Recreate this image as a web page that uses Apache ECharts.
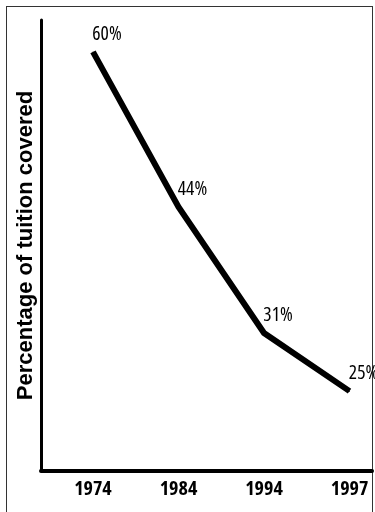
<!DOCTYPE html>
<html>
<head>
<meta charset="utf-8">
<script src="https://cdn.jsdelivr.net/npm/echarts@6/dist/echarts.min.js"></script>
<style>
  html, body { margin: 0; padding: 0; background: #fff; }
  #frame { position: absolute; left: 6px; top: 6px; width: 367px; height: 520px;
           border: 1px solid #333; box-sizing: border-box; }
  #chart { position: absolute; left: 0; top: 0; width: 375px; height: 512px; }
</style>
</head>
<body>
<div id="frame"></div>
<div id="chart"></div>
<script>
// Share of tuition covered, by year
const years = ['1974', '1984', '1994', '1997'];
const coveredPct = [60, 44, 31, 25];
const yAxisTitle = 'Percentage of tuition covered';

// Find the narrowest locally available face for the compressed headline-style figures.
function narrowFace(sample, weight) {
  const ctx = document.createElement('canvas').getContext('2d');
  const candidates = [
    [weight + ' ultra-condensed', '"Noto Sans"'],
    [weight + ' extra-condensed', '"Noto Sans"'],
    [weight + ' condensed', '"Noto Sans"'],
    [weight, '"Liberation Sans Narrow"'],
    [weight + ' condensed', '"Liberation Sans"'],
    [weight + ' condensed', '"Open Sans"'],
    [weight + ' condensed', '"DejaVu Sans"'],
    [weight, '"DejaVu Sans Condensed"'],
    [weight, '"Roboto Condensed"']
  ];
  let best = null;
  for (const [w, fam] of candidates) {
    ctx.font = '10px serif';
    const spec = w + ' 100px ' + fam;
    ctx.font = spec;
    if (ctx.font === '10px serif') continue;
    const width = ctx.measureText(sample).width;
    if (!best || width < best.width - 0.5) best = { weight: w, family: fam, width: width };
  }
  return best || { weight: weight, family: 'sans-serif', width: 60 * sample.length };
}

function fitSize(face, targetWidth, lo, hi) {
  const s = targetWidth * 100 / face.width;
  return Math.max(lo, Math.min(hi, Math.round(s * 2) / 2));
}

const yearFace = narrowFace('1974', 'bold');
const yearSize = fitSize(yearFace, 38, 14, 22);
const pctFace = narrowFace('60%', 'normal');
const pctSize = fitSize(pctFace, 29, 14, 20);

const chart = echarts.init(document.getElementById('chart'), null, { renderer: 'canvas' });

chart.setOption({
  animation: false,
  backgroundColor: 'transparent',
  grid: { left: 41, right: 3, top: 20, bottom: 41 },
  xAxis: {
    type: 'value',
    min: -0.608,
    max: 3.263,
    splitLine: { show: false },
    axisTick: { show: false },
    axisLine: { show: true, onZero: false, lineStyle: { color: '#000', width: 4 } },
    axisLabel: {
      customValues: years.map((_, i) => i),
      formatter: v => years[Math.round(v)],
      color: '#000',
      fontFamily: yearFace.family,
      fontWeight: yearFace.weight,
      fontSize: yearSize,
      margin: 8
    }
  },
  yAxis: {
    type: 'value',
    min: 16.76,
    max: 63.29,
    splitLine: { show: false },
    axisTick: { show: false },
    axisLabel: { show: false },
    axisLine: { show: true, onZero: false, lineStyle: { color: '#000', width: 3 } },
    name: yAxisTitle,
    nameLocation: 'middle',
    nameRotate: 90,
    nameGap: 4,
    nameTextStyle: {
      color: '#000',
      fontFamily: '"Liberation Sans", Arial, sans-serif',
      fontWeight: 'bold',
      fontSize: 22
    }
  },
  series: [{
    type: 'line',
    data: coveredPct.map((v, i) => [i, v]),
    symbol: 'circle',
    symbolSize: 1,
    itemStyle: { color: '#000' },
    lineStyle: { color: '#000', width: 6, cap: 'butt', join: 'miter' },
    label: {
      show: true,
      position: 'top',
      distance: 4,
      offset: [14, -3],
      formatter: p => p.value[1] + '%',
      color: '#000',
      fontFamily: pctFace.family,
      fontWeight: pctFace.weight,
      fontSize: pctSize
    }
  }]
});
</script>
</body>
</html>
